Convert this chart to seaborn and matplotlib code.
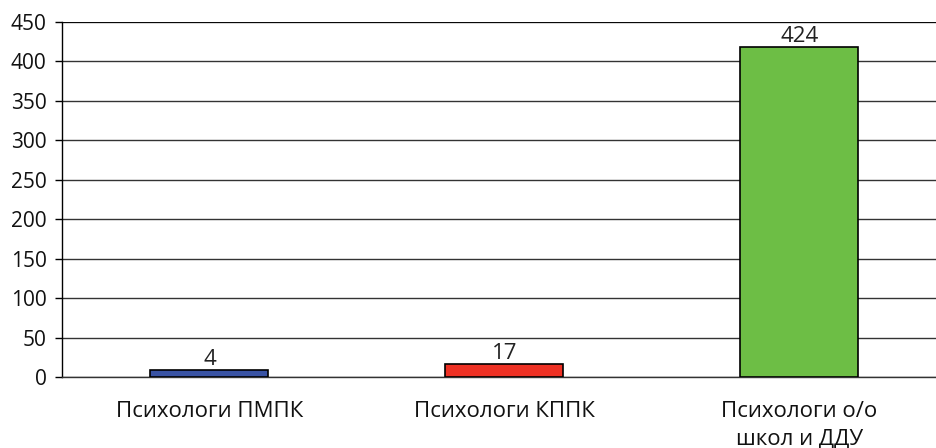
import matplotlib
matplotlib.use("Agg")
import matplotlib.pyplot as plt
import seaborn as sns
import pandas as pd

categories = ["Психологи ПМПК", "Психологи КППК", "Психологи о/о\nшкол и ДДУ"]
bar_heights = [9, 16.5, 418]
value_labels = ["4", "17", "424"]
colors = ["#3953A4", "#EE3124", "#6DBE45"]
y_ticks = [0, 50, 100, 150, 200, 250, 300, 350, 400, 450]

sns.set_style("white")
plt.rcParams["font.family"] = ["Open Sans", "DejaVu Sans"]

fig = plt.figure(figsize=(9.37, 4.48), dpi=100)
ax = fig.add_axes([62/937, 1 - 377/448, (947 - 62)/937, (377 - 22)/448])

df = pd.DataFrame({"cat": categories, "val": bar_heights})
sns.barplot(data=df, x="cat", y="val", hue="cat", palette=colors, legend=False,
            saturation=1, width=0.40, edgecolor="black", linewidth=1.2, ax=ax, zorder=3)

for i, (h, lab) in enumerate(zip(bar_heights, value_labels)):
    ax.text(i, h + 0.5, lab, ha="center", va="bottom", fontsize=16, color="#222222")

ax.set_ylim(0, 450)
ax.set_xlim(-0.5, 2.5)
ax.set_yticks(y_ticks)
ax.set_yticklabels([str(t) for t in y_ticks], fontsize=15, color="#111111")
ax.yaxis.grid(True, color="#333333", linewidth=1.0)
ax.set_axisbelow(True)
ax.set_xlabel("")
ax.set_ylabel("")

ax.set_xticks([0, 1, 2])
ax.set_xticklabels(categories, fontsize=16, linespacing=1.45, color="#111111")
ax.tick_params(axis="x", length=0, pad=17)
ax.set_xticks([0.5, 1.5], minor=True)
ax.tick_params(axis="x", which="minor", length=6, width=1, color="black", direction="out")
ax.tick_params(axis="y", length=5, width=1, color="black", direction="out", left=True, pad=6)

for s in ["top", "right"]:
    ax.spines[s].set_visible(False)
ax.spines["left"].set_color("black")
ax.spines["bottom"].set_color("#333333")
ax.spines["left"].set_linewidth(1)
ax.spines["bottom"].set_linewidth(1)
ax.axhline(450, color="black", linewidth=1.2, zorder=2)

fig.savefig("out.png", dpi=100)
